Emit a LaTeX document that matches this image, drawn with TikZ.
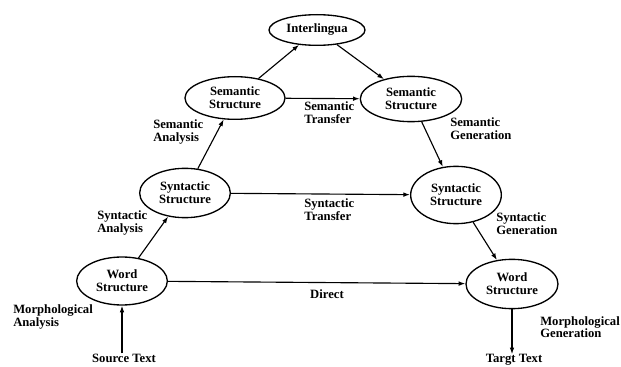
\documentclass[tikz,border=0pt]{standalone}
\usepackage{fontspec}
\setmainfont{Liberation Serif}
\usetikzlibrary{shapes.geometric,arrows.meta}

\begin{document}
\begin{tikzpicture}[x=0.75pt, y=-0.75pt,
    stage/.style={draw, ellipse, line width=1pt, inner sep=0pt, align=center,
        font=\bfseries\fontsize{9.5}{9.5}\selectfont},
    lbl/.style={inner sep=0pt, align=left, font=\bfseries\fontsize{9.5}{9.5}\selectfont},
    flow/.style={-{Latex[length=5pt,width=3.5pt]}, line width=0.85pt}]
    \useasboundingbox (0,0) rectangle (621,367);

    % the pyramid
    \node[stage, minimum width=72pt, minimum height=23pt] (inter) at (317,30) {Interlingua};
    \node[stage, minimum width=75pt, minimum height=32pt] (seml) at (235,98) {Semantic\\Structure};
    \node[stage, minimum width=76pt, minimum height=34pt] (semr) at (411,99) {Semantic\\Structure};
    \node[stage, minimum width=68pt, minimum height=37pt] (synl) at (185,193) {Syntactic\\Structure};
    \node[stage, minimum width=68pt, minimum height=43pt] (synr) at (456,195) {Syntactic\\Structure};
    \node[stage, minimum width=68pt, minimum height=36pt] (wordl) at (122,281) {Word\\Structure};
    \node[stage, minimum width=69pt, minimum height=37pt] (wordr) at (512,284) {Word\\Structure};

    \node[lbl] (src) at (124,358) {Source Text};
    \node[lbl] (tgt) at (514,360) {Targt Text};

    % labels
    \node[lbl, anchor=west] (morpha) at (13,317) {Morphological\\Analysis};
    \node[lbl, anchor=west] (synana) at (97,223) {Syntactic\\Analysis};
    \node[lbl, anchor=west] (semana) at (153,132) {Semantic\\Analysis};
    \node[lbl, anchor=west] (semtr) at (304,113) {Semantic\\Transfer};
    \node[lbl, anchor=west] (syntr) at (304,210) {Syntactic\\Transfer};
    \node[lbl] (direct) at (327,294) {Direct};
    \node[lbl, anchor=west] (semgen) at (450,129) {Semantic\\Generation};
    \node[lbl, anchor=west] (syngen) at (496,224) {Syntactic\\Generation};
    \node[lbl, anchor=west] (morphg) at (540,327) {Morphological\\Generation};

    % arrows
    \draw[flow] (src.north -| wordl.south) -- (wordl.south);
    \draw[flow] (wordl) -- (synl);
    \draw[flow] (synl) -- (seml);
    \draw[flow] (seml) -- (inter);
    \draw[flow] (inter) -- (semr);
    \draw[flow] (seml) -- (semr);
    \draw[flow] (synl) -- (synr);
    \draw[flow] (wordl) -- (wordr);
    \draw[flow] (semr) -- (synr);
    \draw[flow] (synr) -- (wordr);
    \draw[flow] (wordr.south) -- (tgt.north -| wordr.south);
\end{tikzpicture}
\end{document}
